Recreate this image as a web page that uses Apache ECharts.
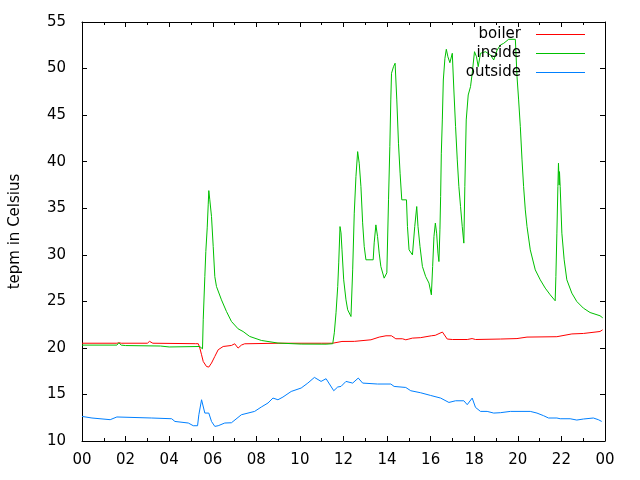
<!DOCTYPE html>
<html>
<head>
<meta charset="utf-8">
<script src="https://cdn.jsdelivr.net/npm/echarts@6/dist/echarts.min.js"></script>
<style>html,body{margin:0;padding:0;background:#fff}#c{width:640px;height:480px}</style>
</head>
<body>
<div id="c"></div>
<script>
// time of day in hours, temperatures in Celsius
const seriesNames = ['boiler', 'inside', 'outside'];
const yTicks = [10, 15, 20, 25, 30, 35, 40, 45, 50, 55];
const xTickHours = [0, 2, 4, 6, 8, 10, 12, 14, 16, 18, 20, 22, 24];

const boilerT = [0, 1.6, 1.7, 1.8, 3.0, 3.1, 3.25, 5.2, 5.335, 5.408, 5.486, 5.563, 5.714, 5.819, 5.943, 6.094, 6.249, 6.478, 6.857, 7.008, 7.163, 7.314, 7.465, 9.0, 11.0, 11.5, 11.93, 12.5, 13.26, 13.64, 13.95, 14.2, 14.4, 14.7, 14.86, 15.0, 15.16, 15.54, 16.03, 16.21, 16.54, 16.76, 17.0, 17.68, 17.9, 18.06, 19.2, 19.96, 20.42, 21.79, 22.48, 23.01, 23.77, 23.89];
const boilerV = [20.5, 20.5, 20.55, 20.5, 20.5, 20.7, 20.5, 20.45, 20.45, 19.98, 19.26, 18.54, 18.0, 17.94, 18.37, 19.08, 19.8, 20.15, 20.26, 20.44, 19.98, 20.3, 20.44, 20.5, 20.5, 20.5, 20.69, 20.7, 20.87, 21.16, 21.3, 21.3, 20.98, 20.98, 20.87, 20.95, 21.05, 21.1, 21.3, 21.35, 21.7, 20.95, 20.9, 20.9, 21.0, 20.9, 20.95, 21.0, 21.16, 21.2, 21.5, 21.55, 21.76, 21.94];

const insideT = [0, 1.6, 1.69, 1.8, 2.0, 3.6, 4.0, 5.4, 5.49, 5.53,
  5.563, 5.637, 5.682, 5.746, 5.792, 5.819, 5.865, 5.943, 6.021, 6.094,
  6.171, 6.4, 6.629, 6.857, 7.163, 7.392, 7.694, 8.229, 8.992, 10.057,
  11.2, 11.506, 11.579, 11.657, 11.735, 11.781, 11.84, 11.886, 11.931, 12.009,
  12.114, 12.192, 12.343, 12.421, 12.494, 12.571, 12.649, 12.722, 12.8, 12.878,
  12.951, 13.029, 13.362, 13.408, 13.486, 13.563, 13.637, 13.714, 13.865, 13.989,
  14.066, 14.126, 14.171, 14.203, 14.295, 14.368, 14.446, 14.523, 14.597, 14.674,
  14.889, 14.935, 15.008, 15.163, 15.269, 15.36, 15.419, 15.511, 15.621, 15.771,
  15.922, 16.032, 16.091, 16.151, 16.215, 16.274, 16.334, 16.379, 16.425, 16.457,
  16.489, 16.535, 16.581, 16.654, 16.718, 16.791, 16.882, 16.992, 17.065, 17.143,
  17.221, 17.294, 17.371, 17.449, 17.522, 17.568, 17.632, 17.723, 17.829, 17.906,
  18.011, 18.103, 18.181, 18.286, 18.514, 18.743, 18.894, 19.049, 19.2, 19.351,
  19.58, 19.886, 19.963, 20.037, 20.114, 20.192, 20.265, 20.343, 20.421, 20.571,
  20.8, 21.029, 21.257, 21.486, 21.714, 21.746, 21.792, 21.838, 21.865, 21.897,
  21.911, 21.943, 22.021, 22.126, 22.249, 22.478, 22.706, 23.008, 23.314, 23.771,
  23.895];
const insideV = [20.3, 20.3, 20.55, 20.3, 20.25, 20.2, 20.1, 20.15, 20.2, 19.9,
  23.02, 27.66, 30.35, 32.89, 35.36, 36.89, 35.9, 34.1, 30.88, 27.66,
  26.59, 25.16, 23.91, 22.84, 22.05, 21.76, 21.23, 20.8, 20.52, 20.41,
  20.4, 20.45, 21.62, 23.77, 26.59, 29.13, 33.03, 32.35, 30.53, 27.31,
  25.16, 24.09, 23.37, 28.38, 34.47, 38.4, 41.08, 39.83, 37.32, 33.43,
  30.88, 29.46, 29.46, 31.28, 33.21, 31.96, 30.18, 28.74, 27.49, 28.06,
  35.9, 41.62, 46.63, 49.49, 50.2, 50.57, 46.63, 41.98, 38.76, 35.9,
  35.9, 33.03, 30.53, 29.99, 33.03, 35.18, 33.03, 30.88, 28.74, 27.66,
  26.96, 25.7, 28.74, 31.96, 33.4, 32.32, 30.18, 29.27, 32.68, 36.25,
  40.91, 44.48, 48.77, 51.1, 52.07, 51.27, 50.63, 51.64, 47.7, 43.76,
  40.19, 37.32, 35.18, 33.03, 31.25, 37.32, 44.48, 47.16, 48.06, 49.49,
  51.81, 51.27, 50.2, 51.64, 51.81, 51.46, 50.92, 51.99, 52.53, 52.71,
  53.14, 53.14, 49.13, 46.63, 43.76, 40.19, 37.32, 34.82, 33.03, 30.53,
  28.38, 27.31, 26.42, 25.7, 25.06, 27.66, 32.32, 37.32, 39.83, 37.5,
  38.93, 37.32, 32.32, 29.46, 27.31, 25.88, 24.98, 24.27, 23.8, 23.45,
  23.23];

const outsideT = [0, 0.457, 1.294, 1.6, 3.2, 4.114, 4.265, 4.878, 5.106, 5.303,
  5.362, 5.486, 5.637, 5.819, 5.943, 6.094, 6.249, 6.551, 6.857, 7.314,
  7.922, 8.229, 8.535, 8.763, 8.992, 9.221, 9.6, 10.057, 10.363, 10.665,
  10.971, 11.2, 11.552, 11.735, 11.886, 12.114, 12.421, 12.677, 12.878, 13.563,
  14.171, 14.323, 14.857, 15.086, 15.543, 16.0, 16.457, 16.837, 17.143, 17.522,
  17.678, 17.906, 18.057, 18.286, 18.592, 18.894, 19.2, 19.657, 20.571, 20.878,
  21.179, 21.408, 21.792, 21.943, 22.4, 22.706, 23.008, 23.465, 23.694, 23.849];
const outsideV = [12.64, 12.47, 12.29, 12.58, 12.47, 12.39, 12.1, 11.93, 11.64, 11.64,
  12.82, 14.43, 13.0, 13.0, 12.1, 11.57, 11.64, 11.93, 11.96, 12.82,
  13.18, 13.65, 14.08, 14.61, 14.43, 14.72, 15.32, 15.69, 16.22, 16.83,
  16.4, 16.69, 15.4, 15.8, 15.86, 16.4, 16.22, 16.76, 16.22, 16.12,
  16.12, 15.86, 15.75, 15.4, 15.18, 14.89, 14.61, 14.14, 14.32, 14.32,
  13.9, 14.61, 13.61, 13.18, 13.18, 13.0, 13.04, 13.18, 13.18, 13.0,
  12.72, 12.47, 12.47, 12.39, 12.39, 12.25, 12.36, 12.47, 12.29, 12.1];

const zip = (t, v) => t.map((x, i) => [x, v[i]]);
const FONT = 'DejaVu Sans';
const colors = ['#ff0000', '#00c000', '#0080ff'];

const chart = echarts.init(document.getElementById('c'), null, {renderer: 'canvas'});
const tickCommon = {show: true, inside: true, length: 5, lineStyle: {color: '#000', width: 1}};
const minorCommon = {show: true, splitNumber: 2, length: 3, lineStyle: {color: '#000', width: 1}};
const lineCommon = {show: true, onZero: false, lineStyle: {color: '#000', width: 1}};

chart.setOption({
  animation: false,
  backgroundColor: '#fff',
  textStyle: {fontFamily: FONT},
  grid: {left: 80, right: 35, top: 22, bottom: 39},
  legend: {
    data: seriesNames,
    orient: 'vertical',
    align: 'right',
    right: 55,
    top: 25,
    padding: 0,
    itemGap: 0,
    itemWidth: 49,
    itemHeight: 1,
    icon: 'rect',
    textStyle: {fontFamily: FONT, fontSize: 15, color: '#000', lineHeight: 19, padding: [0, 10, 0, 0]}
  },
  xAxis: [{
    type: 'value', min: xTickHours[0], max: xTickHours[xTickHours.length - 1], interval: 2,
    axisLine: lineCommon, axisTick: tickCommon, minorTick: minorCommon,
    splitLine: {show: false},
    axisLabel: {fontFamily: FONT, fontSize: 15, color: '#000', margin: 12,
      formatter: v => String(v % 24).padStart(2, '0')}
  }, {
    type: 'value', position: 'top', min: 0, max: 24, interval: 2,
    axisLine: lineCommon, axisTick: tickCommon, minorTick: minorCommon,
    splitLine: {show: false}, axisLabel: {show: false}
  }],
  yAxis: [{
    type: 'value', min: yTicks[0], max: yTicks[yTicks.length - 1], interval: 5,
    name: 'tepm in Celsius', nameLocation: 'middle', nameGap: 59,
    nameTextStyle: {fontFamily: FONT, fontSize: 15, color: '#000'},
    axisLine: lineCommon, axisTick: tickCommon, splitLine: {show: false},
    axisLabel: {fontFamily: FONT, fontSize: 15, color: '#000', margin: 16}
  }, {
    type: 'value', position: 'right', min: 10, max: 55, interval: 5,
    axisLine: lineCommon, axisTick: tickCommon, splitLine: {show: false},
    axisLabel: {show: false}
  }],
  series: [
    {name: seriesNames[0], type: 'line', data: zip(boilerT, boilerV)},
    {name: seriesNames[1], type: 'line', data: zip(insideT, insideV)},
    {name: seriesNames[2], type: 'line', data: zip(outsideT, outsideV)}
  ].map((s, i) => Object.assign(s, {
    xAxisIndex: 0, yAxisIndex: 0, showSymbol: false, symbol: 'none',
    color: colors[i], lineStyle: {width: 1, color: colors[i]}
  }))
});
</script>
</body>
</html>
